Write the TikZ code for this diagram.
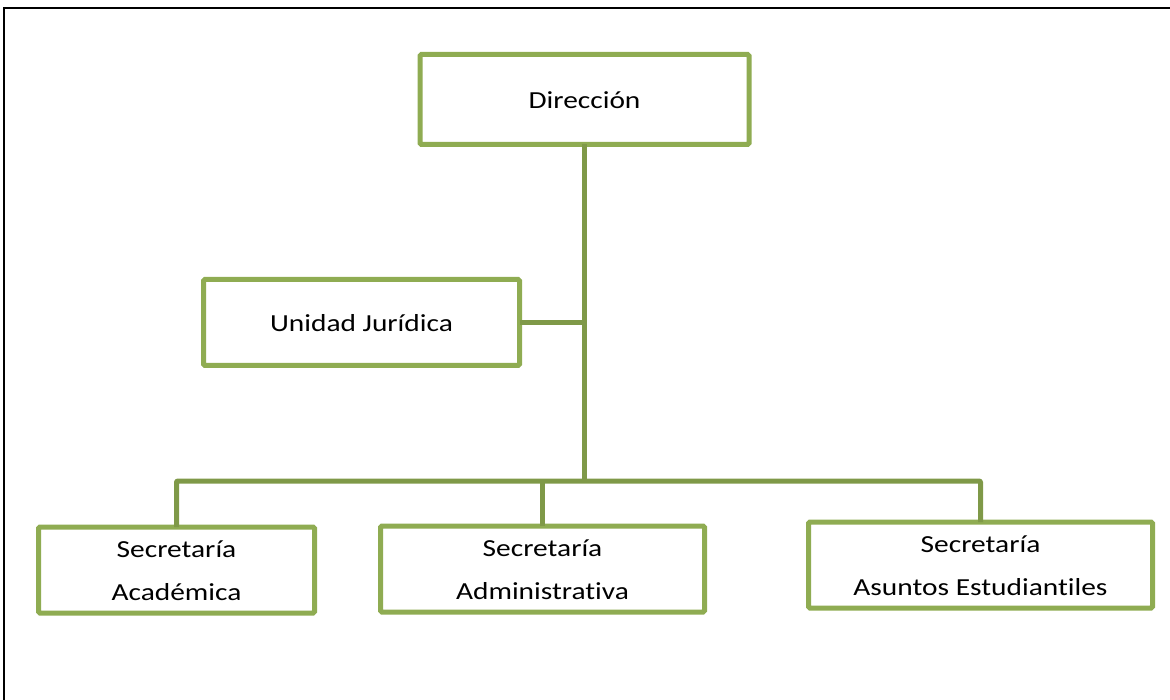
\documentclass[tikz,border=0pt]{standalone}
\usepackage{fontspec}
\usepackage{graphicx}
\setmainfont{Carlito}[Ligatures=CommonOff]
\definecolor{boxgreen}{RGB}{143,172,82}
\definecolor{linkgreen}{RGB}{127,153,72}
% wide label: the text is set a little stretched sideways
\newcommand{\widelabel}[1]{\scalebox{1.2}[1]{\begin{tabular}{@{}c@{}}#1\end{tabular}}}
\tikzset{
  unitbox/.style={draw=boxgreen, line width=5pt, rounded corners=1.5pt, fill=white,
    inner sep=0pt, outer sep=0pt,
    font=\fontsize{24.5}{43}\selectfont},
  link/.style={draw=linkgreen, line width=5pt, line join=round, rounded corners=1pt},
  frame/.style={draw=black, line width=2.5pt}
}
\begin{document}
\begin{tikzpicture}[x=1pt,y=-1pt]
  \useasboundingbox (0,0) rectangle (1170,700);
  % page frame (top and left edges)
  \coordinate (f1) at (4,700);
  \coordinate (f2) at (4,8);
  \coordinate (f3) at (1170,8);
  \draw[frame] (f1) -- (f2) -- (f3);

  % units
  \node[unitbox, minimum width=329pt, minimum height=90pt] (dir) at (584.5,99.5) {\widelabel{Dirección}};
  \node[unitbox, minimum width=316pt, minimum height=86pt] (uj) at (361.5,322.5) {\widelabel{Unidad Jurídica}};
  \node[unitbox, minimum width=276pt, minimum height=85pt] (aca) at (176.5,570) {\widelabel{Secretaría\\Académica}};
  \node[unitbox, minimum width=324pt, minimum height=81pt] (adm) at (542.5,569) {\widelabel{Secretaría\\Administrativa}};
  \node[unitbox, minimum width=344pt, minimum height=79pt] (ase) at (980.5,565) {\widelabel{Secretaría\\Asuntos Estudiantiles}};

  % bus junction under the direction
  \coordinate (bus) at (584.5,481);

  % connectors
  \draw[link] (dir.south) -- (bus);
  \draw[link] (uj.east) -- (uj.east -| bus);
  \draw[link] (aca.north) |- (bus) -| (ase.north);
  \draw[link] (adm.north) -- (adm.north |- bus);
\end{tikzpicture}
\end{document}
